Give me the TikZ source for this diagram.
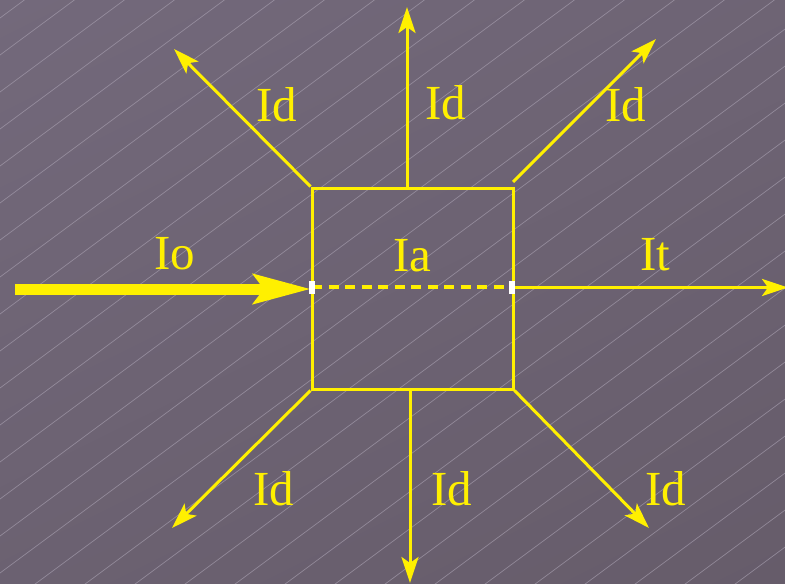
\documentclass[tikz,border=0pt]{standalone}
\usepackage{fontspec}
\setmainfont{Liberation Serif}
\usetikzlibrary{arrows.meta,shadings}
\definecolor{ylw}{RGB}{255,240,0}
\definecolor{bgA}{RGB}{115,105,123}
\definecolor{bgB}{RGB}{102,92,106}
\definecolor{hatch}{RGB}{168,160,176}
\begin{document}
\begin{tikzpicture}[x=1pt,y=-1pt,
  conn/.style={draw=ylw,line width=3pt,-{Stealth[length=26pt,width=17pt,inset=6pt]}},
  lbl/.style={text=ylw,inner sep=0pt,font=\fontsize{49}{52}\selectfont},
  whitemark/.style={fill=white,draw=none,minimum width=6pt,minimum height=13pt,inner sep=0pt}]
\useasboundingbox (0,0) rectangle (785,584);
\shade[upper left=bgA,lower right=bgB,upper right=bgA!60!bgB,lower left=bgA!40!bgB] (0,0) rectangle (785,584);
\begin{scope}
\clip (0,0) rectangle (785,584);
\foreach \k in {0,...,32}{
  \draw[hatch,line width=0.7pt,opacity=0.65] (0,18+37*\k) -- (790,18+37*\k-584.6);
}
\end{scope}
% box
\node[draw=ylw,line width=3pt,minimum width=201pt,minimum height=201pt,inner sep=0pt] (box) at (412.5,288.5) {};
% endpoints
\coordinate (inL) at (15,289);
\coordinate (boxL) at (311,289);
\coordinate (boxR) at (512,287.5);
\coordinate (outR) at (788,287.5);
\coordinate (topS) at (407,188);
\coordinate (topE) at (407,7);
\coordinate (botS) at (410,389);
\coordinate (botE) at (410,583);
\coordinate (trS) at (513,182);
\coordinate (trE) at (656,39);
\coordinate (tlE) at (174,49);
\coordinate (blE) at (172,528);
\coordinate (brE) at (649,528);
% arrows
\draw[conn] (topS) -- (topE);
\draw[conn] (botS) -- (botE);
\draw[conn] (box.north west) -- (tlE);
\draw[conn] (trS) -- (trE);
\draw[conn] (box.south west) -- (blE);
\draw[conn] (box.south east) -- (brE);
\draw[conn] (boxR) -- (outR);
\draw[draw=ylw,line width=11pt,-{Stealth[length=57pt,width=29pt,inset=10pt]}] (inL) -- (boxL);
\draw[draw=ylw,line width=4pt,dash pattern=on 10pt off 6.5pt] (312,287) -- (512,287);
\node[whitemark] (mL) at (312,287) {};
\node[whitemark] (mR) at (512,287) {};
% labels
\node[lbl] (l1) at (277,105) {Id};
\node[lbl] (l2) at (446,103) {Id};
\node[lbl] (l3) at (626,105) {Id};
\node[lbl] (l4) at (273.5,489) {Id};
\node[lbl] (l5) at (452,489) {Id};
\node[lbl] (l6) at (665.5,489) {Id};
\node[lbl] (lo) at (175,254) {Io};
\node[lbl] (la) at (412.5,256) {Ia};
\node[lbl] (lt) at (655,255) {It};
\end{tikzpicture}
\end{document}
